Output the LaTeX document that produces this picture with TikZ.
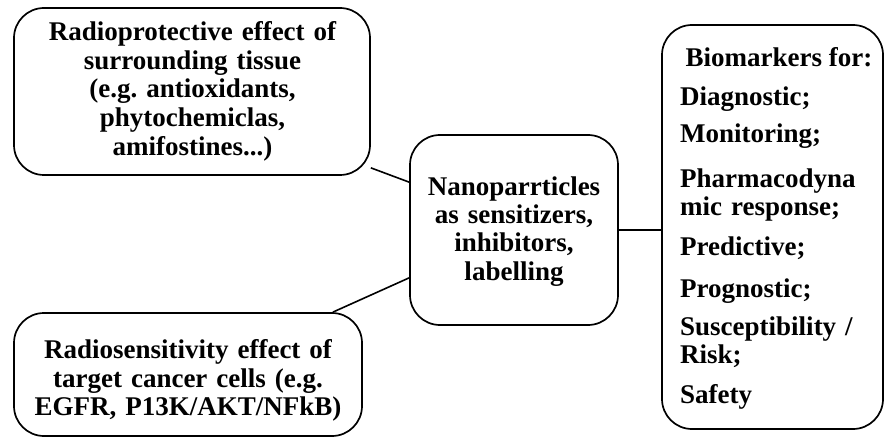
\documentclass[tikz,border=0pt]{standalone}
\usepackage{fontspec}
\setmainfont{Liberation Serif}
% bold 27pt text with a given line distance
\newcommand{\boxfont}[1]{\bfseries\fontsize{27}{#1}\selectfont\frenchspacing}
\begin{document}
\begin{tikzpicture}[x=1pt,y=-1pt,
  roundbox/.style={draw=black,line width=1.7pt,rounded corners=30pt,
    rectangle,inner sep=0pt,fill=white},
  boxtext/.style={font=\boxfont{28.5},
    inner sep=0pt,align=center,anchor=north},
  link/.style={draw=black,line width=1.6pt}]
\useasboundingbox (0,0) rectangle (885,438);

% boxes
\node[roundbox,minimum width=356pt,minimum height=167pt] (tl) at (192,91.5) {};
\node[roundbox,minimum width=348pt,minimum height=123pt] (bl) at (188,374.5) {};
\node[roundbox,minimum width=208pt,minimum height=190pt] (nc) at (514,230) {};
\node[roundbox,minimum width=221pt,minimum height=404pt] (bio) at (772.5,227) {};

% box texts
\node[boxtext,text width=340pt] (tltext) at (192.5,21.3)
  {\boxfont{28.7}Radioprotective effect of\\surrounding tissue\\(e.g. antioxidants,\\phytochemiclas,\\amifostines...)};
\node[boxtext,text width=340pt] (bltext) at (188,339.3)
  {\boxfont{28.5}Radiosensitivity effect of\\target cancer cells (e.g.\\EGFR, P13K/AKT/NFkB)};
\node[boxtext,text width=200pt] (nctext) at (514,176.7)
  {\boxfont{28}Nanoparrticles\\as sensitizers,\\inhibitors,\\labelling};
\node[boxtext,anchor=base] (biohead) at (779,67) {Biomarkers for:};
\node[boxtext,align=left,text width=200pt,anchor=north west] (biolist) at (680,86.4)
  {\boxfont{28}Diagnostic;\\[9pt]
   Monitoring;\\[17pt]
   Pharmacodyna\\
   mic response;\\[12pt]
   Predictive;\\[14pt]
   Prognostic;\\[10pt]
   Susceptibility /\\
   Risk;\\[12pt]
   Safety};

% connectors
\draw[link] ([yshift=8pt]tl.south east) -- ([yshift=-48pt]nc.north west);
\draw[link] ([xshift=-30pt]bl.north east) -- ([yshift=48pt]nc.south west);
\draw[link] (nc.east) -- (nc.east -| bio.west);
\end{tikzpicture}
\end{document}
